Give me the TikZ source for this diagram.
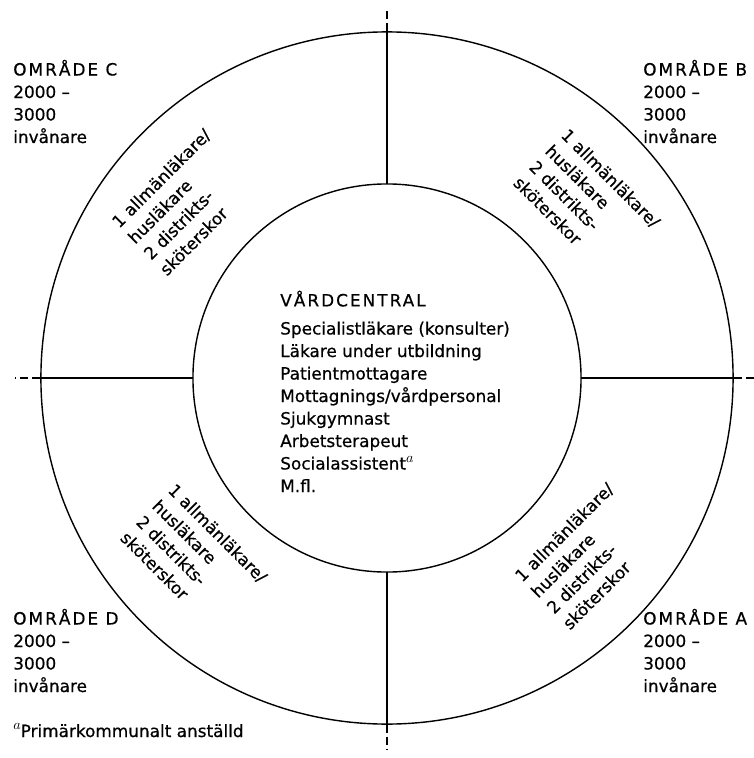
\documentclass[tikz,border=0pt]{standalone}
\usepackage{fontspec}
\setmainfont[FakeBold=0.6]{DejaVu Sans}
\newfontfamily\spacedcaps[LetterSpace=12,FakeBold=0.6]{DejaVu Sans}
\newcommand{\omr}[1]{{\spacedcaps OMRÅDE #1}}
\newcommand{\fnmark}{\raisebox{0.42em}{\fontsize{10}{10}\selectfont$a$}}
\begin{document}
\begin{tikzpicture}[
    x=0.025cm, y=0.025cm,
    ring/.style={circle, draw=black, line width=1pt, inner sep=0pt, outer sep=0pt},
    divider/.style={line width=1pt, black},
    extension/.style={line width=1pt, black, dash pattern=on 6pt off 3pt},
    label/.style={inner sep=0pt, align=left, font=\fontsize{12}{16}\selectfont},
    staff/.style={inner sep=0pt, align=left, font=\fontsize{12}{16}\selectfont}
]
\useasboundingbox (-387,-380) rectangle (367,378);

% Circles
\node[ring, minimum size=17.3cm] (outer) at (0,0) {};
\node[ring, minimum size=9.7cm] (hub) at (0,0) {};

% Dividing lines
\draw[divider] (outer.north) -- (hub.north);
\draw[divider] (outer.south) -- (hub.south);
\draw[divider] (outer.west) -- (hub.west);
\draw[divider] (outer.east) -- (hub.east);

% Dashed extensions
\coordinate (topend) at (0,370);
\coordinate (bottomend) at (0,-372);
\coordinate (leftend) at (-372,0);
\coordinate (rightend) at (367,0);
\draw[extension] (outer.north) -- (topend);
\draw[extension] (outer.south) -- (bottomend);
\draw[extension] (outer.west) -- (leftend);
\draw[extension] (outer.east) -- (rightend);

% Centre (base = last line)
\node[label, anchor=base west] (centre) at (-107,-114)
  {{\spacedcaps VÅRDCENTRAL}\\[4pt]
   Specialistläkare (konsulter)\\
   Läkare under utbildning\\
   Patientmottagare\\
   Mottagnings/vårdpersonal\\
   Sjukgymnast\\
   Arbetsterapeut\\
   Socialassistent\fnmark\\
   M.fl.};

% Staff in each area
\node[staff, rotate=45] (staffc) at (-202,176)
  {1 allmänläkare/\\husläkare\\2 distrikts-\\sköterskor};
\node[staff, rotate=-45] (staffb) at (200,176)
  {1 allmänläkare/\\husläkare\\2 distrikts-\\sköterskor};
\node[staff, rotate=-45] (staffd) at (-193,-179)
  {1 allmänläkare/\\husläkare\\2 distrikts-\\sköterskor};
\node[staff, rotate=45] (staffa) at (201,-178)
  {1 allmänläkare/\\husläkare\\2 distrikts-\\sköterskor};

% Areas
\node[label, anchor=base west] (areac) at (-374,235) {\omr{C}\\2000 –\\3000\\invånare};
\node[label, anchor=base west] (areab) at (256,235) {\omr{B}\\2000 –\\3000\\invånare};
\node[label, anchor=base west] (aread) at (-374,-314) {\omr{D}\\2000 –\\3000\\invånare};
\node[label, anchor=base west] (areaa) at (256,-314) {\omr{A}\\2000 –\\3000\\invånare};

% Footnote
\node[label, anchor=base west] (note) at (-374,-359) {\fnmark Primärkommunalt anställd};

\end{tikzpicture}
\end{document}
